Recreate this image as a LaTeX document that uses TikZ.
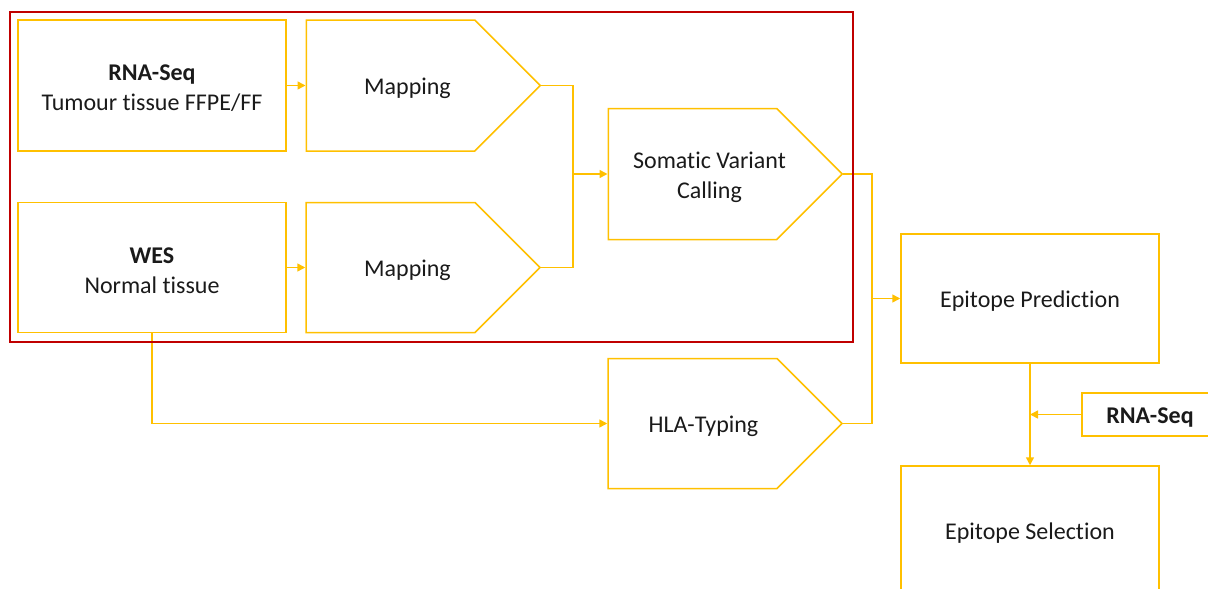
\documentclass[tikz,border=0pt]{standalone}
\usepackage{fontspec}
\setmainfont{Carlito}[Ligatures=NoCommon]
\usetikzlibrary{arrows.meta,shapes.symbols}
\definecolor{gold}{HTML}{FFC000}
\definecolor{framered}{HTML}{C00000}
\definecolor{ink}{HTML}{1A1A1A}

\begin{document}
\begin{tikzpicture}[x=1pt,y=-1pt,
  every node/.style={font=\fontsize{24}{30}\selectfont, text=ink},
  txt/.style={align=center, inner sep=0pt, yshift=-3pt},
  box/.style={draw=gold, line width=1.5pt, rectangle, minimum width=268pt,
    minimum height=131pt, inner sep=0pt},
  pent/.style={draw=gold, line width=1.5pt, signal, signal to=east,
    signal pointer angle=90, minimum width=234pt, minimum height=131pt,
    inner sep=0pt},
  link/.style={draw=gold, line width=1.5pt},
  arr/.style={link, -{Triangle[length=8pt,width=8pt]}}]
\useasboundingbox (0,0) rectangle (1208,589);
\clip (0,0) rectangle (1208,589);

% inputs
\node[box, label={[txt, name=rnat]center:{\textbf{RNA-Seq}\\Tumour tissue FFPE/FF}}]
  (rna) at (152,85.5) {};
\node[box, minimum height=130pt, label={[txt, name=west]center:{\textbf{WES}\\Normal tissue}}]
  (wes) at (152,267.5) {};

% processing steps (anchored at the centre of the rectangular body)
\node[pent, label={[txt, xshift=17pt, name=m1t]center:Mapping}] (m1) at (390.5,85.5) {};
\node[pent, minimum height=130pt, label={[txt, xshift=17pt, name=m2t]center:Mapping}]
  (m2) at (390.5,267.5) {};
\node[pent, label={[txt, xshift=17pt, name=svct]center:{Somatic Variant\\Calling}}]
  (svc) at (692.5,174) {};
\node[pent, minimum height=130pt, label={[txt, xshift=11pt, name=hlat]center:HLA-Typing}]
  (hla) at (692.5,423.5) {};

% epitope stages
\node[box, minimum width=258pt, minimum height=129pt,
  label={[txt, name=ept]center:Epitope Prediction}] (ep) at (1030,298.5) {};
\node[box, minimum width=258pt, minimum height=129pt,
  label={[txt, name=est]center:Epitope Selection}] (es) at (1030,530.5) {};
\node[box, minimum width=136pt, minimum height=43pt,
  label={[txt, name=rna2t]center:\textbf{RNA-Seq}}] (rna2) at (1150,414.5) {};

% junctions
\coordinate (j1) at (573,174);
\coordinate (j2) at (872,298.5);
\coordinate (j3) at (1030,414.5);

% connectors
\draw[arr] (rna.east) -- (m1.west);
\draw[arr] (wes.east) -- (m2.west);
\draw[link] (m1.east) -| (j1) |- (m2.east);
\draw[arr] (j1) -- (svc.west);
\draw[link] (svc.east) -| (j2) |- (hla.east);
\draw[arr] (j2) -- (ep.west);
\draw[arr] (wes.south) |- (hla.west);
\draw[arr] (ep.south) -- (es.north);
\draw[arr] (rna2.west) -- (j3);

% sequencing and variant calling group
\draw[framered, line width=2.5pt] (10,12) rectangle (853,342);
\end{tikzpicture}
\end{document}
